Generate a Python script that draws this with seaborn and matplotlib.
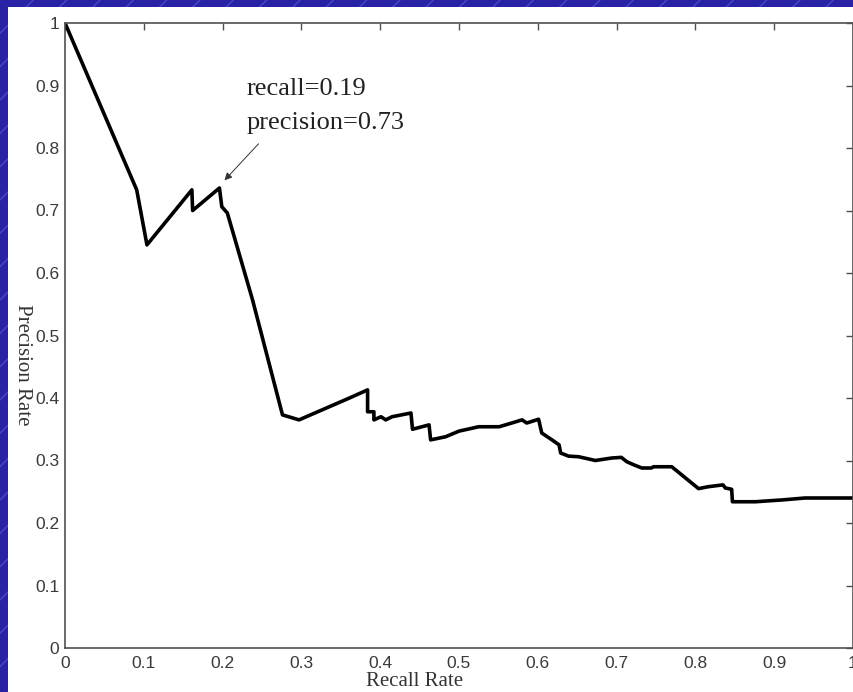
import pandas as pd
import numpy as np
import matplotlib.pyplot as plt
import seaborn as sns
from matplotlib.patches import Rectangle

# Precision / recall curve
recall = [0.0, 0.091, 0.104, 0.161, 0.162, 0.196, 0.199, 0.206, 0.238, 0.276,
          0.297, 0.361, 0.384, 0.384, 0.392, 0.392, 0.401, 0.407, 0.415, 0.439,
          0.441, 0.453, 0.462, 0.464, 0.483, 0.50, 0.525, 0.551, 0.567, 0.58,
          0.586, 0.601, 0.605, 0.618, 0.627, 0.629, 0.639, 0.652, 0.673, 0.694,
          0.706, 0.713, 0.722, 0.732, 0.744, 0.747, 0.77, 0.804, 0.816, 0.835,
          0.838, 0.846, 0.847, 0.876, 0.911, 0.939, 0.968, 1.0]
precision = [1.0, 0.733, 0.645, 0.733, 0.70, 0.736, 0.706, 0.696, 0.557, 0.373,
             0.365, 0.40, 0.413, 0.378, 0.378, 0.365, 0.37, 0.365, 0.37, 0.376,
             0.35, 0.354, 0.357, 0.333, 0.338, 0.347, 0.354, 0.354, 0.36, 0.365,
             0.36, 0.366, 0.344, 0.333, 0.325, 0.312, 0.307, 0.306, 0.30, 0.304,
             0.305, 0.298, 0.293, 0.288, 0.288, 0.29, 0.29, 0.255, 0.258, 0.261,
             0.256, 0.254, 0.234, 0.234, 0.237, 0.24, 0.24, 0.24]

xticks = [0, 0.1, 0.2, 0.3, 0.4, 0.5, 0.6, 0.7, 0.8, 0.9, 1]
xticklabels = ['0', '0.1', '0.2', '0.3', '0.4', '0.5', '0.6', '0.7', '0.8', '0.9', '1']
yticks = [0, 0.1, 0.2, 0.3, 0.4, 0.5, 0.6, 0.7, 0.8, 0.9, 1]
yticklabels = ['0', '0.1', '0.2', '0.3', '0.4', '0.5', '0.6', '0.7', '0.8', '0.9', '1']

point_xy = (0.2, 0.745)
note = 'recall=0.19\nprecision=0.73'

df = pd.DataFrame({'recall': recall, 'precision': precision})

sns.set_theme(style='white')
plt.rcParams['font.family'] = ['Liberation Sans', 'DejaVu Sans']

fig = plt.figure(figsize=(8.54, 6.92), dpi=100)
fig.patch.set_facecolor('#2a22a4')

# slide background: blue with faint diagonal streaks, white figure on top
bg = Rectangle((0, 0), 1, 1, transform=fig.transFigure, facecolor='#2a22a4',
               edgecolor='#4a48c4', hatch='/', linewidth=0, zorder=-3)
fig.patches.append(bg)
white = Rectangle((8 / 854, 0), 1, (692 - 7) / 692, transform=fig.transFigure,
                  facecolor='white', edgecolor='none', zorder=-2)
fig.patches.append(white)

ax = fig.add_axes([65 / 854, 44 / 692, 788 / 854, 625 / 692])
ax.set_facecolor('white')

sns.lineplot(data=df, x='recall', y='precision', sort=False, estimator=None,
             color='black', linewidth=2.6, ax=ax)

ax.set_xlim(0, 1)
ax.set_ylim(0, 1)
ax.set_xticks(xticks)
ax.set_xticklabels(xticklabels)
ax.set_yticks(yticks)
ax.set_yticklabels(yticklabels)

for s in ax.spines.values():
    s.set_visible(True)
    s.set_color('#505050')
    s.set_linewidth(1.2)

ax.tick_params(axis='both', direction='in', length=5, width=1.0, color='#505050',
               top=True, right=True, labelsize=12.5, labelcolor='#3a3a3a')
ax.tick_params(axis='x', pad=6)
ax.tick_params(axis='y', pad=4)

ax.set_xlabel('Recall Rate', family='Liberation Serif', fontsize=15, color='#333333',
              va='center')
ax.set_ylabel('Precision Rate', family='Liberation Serif', fontsize=15, color='#333333',
              rotation=-90, va='center')
ax.xaxis.set_label_coords(0.4436, -0.053)
ax.yaxis.set_label_coords(-0.0545, 0.453)

ax.annotate('', xy=point_xy, xytext=(0.248, 0.81),
            arrowprops=dict(arrowstyle='-|>', color='#333333', lw=0.7, mutation_scale=11))
ax.text(0.230, 0.912, note, family='Liberation Serif', fontsize=19, color='#222222',
        ha='left', va='top', linespacing=1.7)

plt.savefig('out.png', dpi=100, facecolor=fig.get_facecolor())
